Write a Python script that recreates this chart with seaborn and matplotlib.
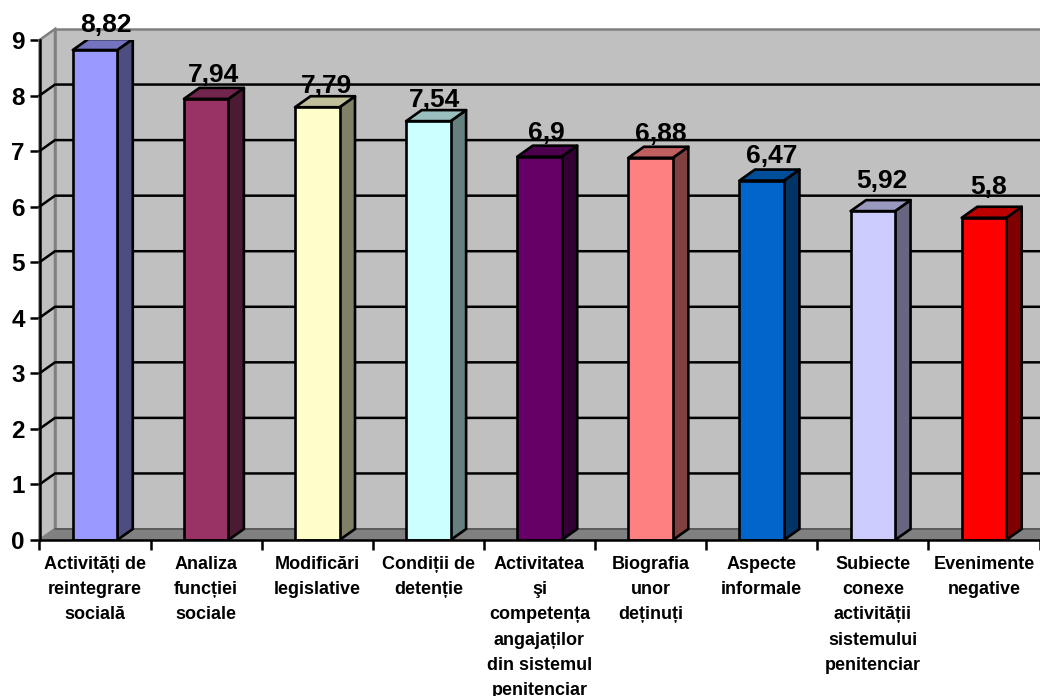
import matplotlib
matplotlib.use("Agg")
import matplotlib.pyplot as plt
import matplotlib.colors as mcolors
from matplotlib.patches import Polygon
import numpy as np
import pandas as pd
import seaborn as sns

categories = [
    "Activități de\nreintegrare\nsocială",
    "Analiza\nfuncției\nsociale",
    "Modificări\nlegislative",
    "Condiții de\ndetenție",
    "Activitatea\nşi\ncompetența\nangajaților\ndin sistemul\npenitenciar",
    "Biografia\nunor\ndeținuți",
    "Aspecte\ninformale",
    "Subiecte\nconexe\nactivității\nsistemului\npenitenciar",
    "Evenimente\nnegative",
]
values = [8.82, 7.94, 7.79, 7.54, 6.9, 6.88, 6.47, 5.92, 5.8]
colors = ["#9999FF", "#993366", "#FFFFCC", "#CCFFFF", "#660066",
          "#FF8080", "#0066CC", "#CCCCFF", "#FF0000"]
y_ticks = list(range(10))

# label nudges in pixels, the original labels are not placed very evenly
label_dx = [11, 7, 9, 6.5, 7, 10.5, 9.5, 9.5, 5]
label_gap = [7, 6, 3, 3.5, 5.5, 6, 6.5, 12.5, 12.5]

sns.set_style("white")
plt.rcParams["font.family"] = ["Liberation Sans", "DejaVu Sans"]
plt.rcParams["font.weight"] = "bold"

W, H = 1040, 696
fig = plt.figure(figsize=(W / 100, H / 100), dpi=100)
ax = fig.add_axes([39.5 / W, (H - 540) / H, 1000 / W, 500 / H])

df = pd.DataFrame({"cat": categories, "val": values})
sns.barplot(data=df, x="cat", y="val", hue="cat", palette=colors, legend=False,
            width=0.4, saturation=1, edgecolor="black", linewidth=1.9,
            ax=ax, zorder=5)
ax.set_xlim(-0.5, 8.5)
ax.set_ylim(0, 9)
ax.set_xlabel("")
ax.set_ylabel("")

# depth of the fake 3d, in data units
px_x = 9 / 1000
px_y = 9 / 500
dx = 15.5 * px_x
dy = 11 * px_y
x0, x1 = -0.5, 8.6

# back wall, side wall, floor
ax.add_patch(Polygon([(x0 + dx, dy), (x1 + dx, dy), (x1 + dx, 9 + dy), (x0 + dx, 9 + dy)],
                     fc="#C0C0C0", ec="#808080", lw=1.8, zorder=1, clip_on=False))
ax.add_patch(Polygon([(x0, 0), (x0 + dx, dy), (x0 + dx, 9 + dy), (x0, 9)],
                     fc="#C0C0C0", ec="#808080", lw=1.8, zorder=1, clip_on=False))
ax.add_patch(Polygon([(x0, 0), (x1, 0), (x1 + dx, dy), (x0 + dx, dy)],
                     fc="#808080", ec="#808080", lw=1, zorder=2, clip_on=False))
ax.plot([x0 + dx, x1 + dx], [dy, dy], color="#555555", lw=1.2, zorder=2.5, clip_on=False)

# gridlines run along the side wall and then the back wall
for k in y_ticks[1:-1]:
    ax.plot([x0, x0 + dx, x1 + dx], [k, k + dy, k + dy], color="black", lw=1.8,
            zorder=3, clip_on=False, solid_joinstyle="miter")

# sides and tops of the bars, built from the bars seaborn drew
for i, bar in enumerate(ax.patches[:len(values)]):
    left = bar.get_x()
    right = left + bar.get_width()
    top = bar.get_height()
    rgb = np.array(mcolors.to_rgb(colors[i]))
    ax.add_patch(Polygon([(right, 0), (right + dx, dy), (right + dx, top + dy), (right, top)],
                         fc=rgb * 0.5, ec="black", lw=1.9, zorder=4, joinstyle="round"))
    ax.add_patch(Polygon([(left, top), (left + dx, top + dy), (right + dx, top + dy), (right, top)],
                         fc=rgb * 0.75, ec="black", lw=1.9, zorder=4, joinstyle="round"))
    ax.text(i + label_dx[i] * px_x, top + dy + label_gap[i] * px_y,
            str(values[i]).replace(".", ","), ha="center", va="baseline",
            fontsize=19, fontweight="bold", color="black", zorder=7, clip_on=False)

# ticks sit between the categories, labels under the centres
ax.set_xticks(np.arange(-0.5, 8.6, 1))
ax.set_xticklabels([])
ax.set_xticks(range(len(categories)), labels=categories, minor=True)
ax.tick_params(axis="x", which="major", length=7.5, width=1.8, color="black", bottom=True)
ax.tick_params(axis="x", which="minor", length=0, pad=11.5, labelsize=13, labelcolor="black")
for lab in ax.get_xticklabels(minor=True):
    lab.set_fontweight("bold")
    lab.set_linespacing(1.63)

ax.set_yticks(y_ticks)
ax.tick_params(axis="y", length=7.5, width=1.8, color="black", left=True, pad=3,
               labelsize=17.5, labelcolor="black")
for lab in ax.get_yticklabels():
    lab.set_fontweight("bold")

sns.despine(ax=ax, top=True, right=True)
for side in ["left", "bottom"]:
    ax.spines[side].set_color("black")
    ax.spines[side].set_linewidth(1.8)
    ax.spines[side].set_zorder(6)

fig.savefig("out.png", dpi=100)
